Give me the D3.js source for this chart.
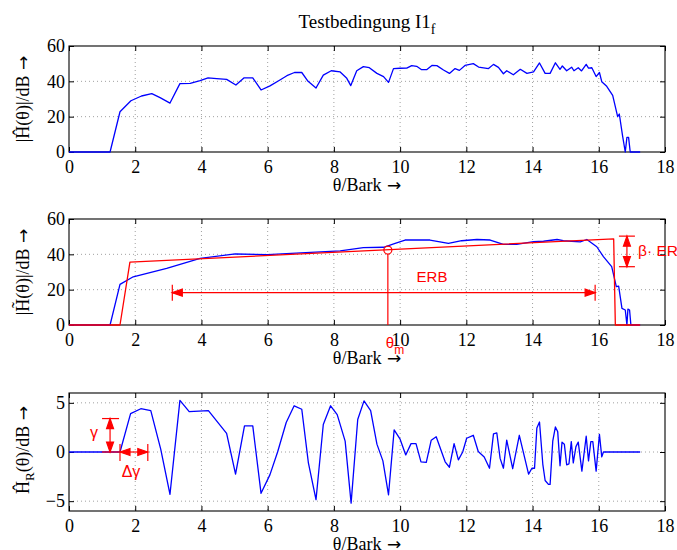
<!DOCTYPE html>
<html>
<head>
<meta charset="utf-8">
<script src="https://cdn.jsdelivr.net/npm/d3@7"></script>
<style>
  body { margin: 0; background: #fff; }
  svg { display: block; }
  text { font-family: "Liberation Serif", "Times New Roman", serif; fill: #000; }
  .tick text { font-family: "Liberation Serif", "Times New Roman", serif !important; font-size: 18px !important; }
</style>
</head>
<body>
<script>
// Bark axis ticks
const xTicks = [0, 2, 4, 6, 8, 10, 12, 14, 16, 18];

// panel 1: |H^(theta)| in dB
const magTheta = [0, 1.24, 1.54, 1.87, 2.19, 2.5, 2.75, 3.05, 3.35, 3.66, 3.96, 4.2, 4.46, 4.76, 5.04, 5.29, 5.55, 5.8, 6.07, 6.32, 6.58, 6.81, 7.03, 7.22, 7.46, 7.68, 7.92, 8.19, 8.39, 8.51, 8.69, 8.89, 9.07, 9.3, 9.5, 9.65, 9.8, 10.0, 10.2, 10.35, 10.5, 10.65, 10.8, 10.96, 11.11, 11.31, 11.49, 11.66, 11.79, 11.96, 12.21, 12.37, 12.67, 12.82, 12.97, 13.12, 13.22, 13.42, 13.63, 13.83, 14.03, 14.21, 14.38, 14.53, 14.69, 14.83, 14.9, 15.03, 15.18, 15.25, 15.38, 15.48, 15.62, 15.69, 15.79, 15.92, 16.02, 16.09, 16.24, 16.42, 16.57, 16.62, 16.72, 16.8, 16.85, 16.9, 16.95, 17.25];
const magDb = [0, 0, 22.8, 29, 31.7, 33, 30.8, 27.7, 38.7, 38.9, 40.4, 41.9, 41.5, 41.1, 37.9, 42, 42, 35.1, 37.4, 40.2, 43.2, 45, 45, 40, 36.2, 43.5, 46, 45.3, 41.7, 37.6, 46, 48.3, 47.7, 44.5, 42.7, 39.4, 47.2, 47.4, 47.5, 48.9, 48.5, 46.6, 46.6, 49, 48.9, 46.4, 44.5, 47.2, 46.2, 49, 50, 48.1, 47.2, 49.6, 47.9, 44.3, 46, 43.7, 46.8, 44.5, 45.3, 50.4, 44.5, 44.5, 50.5, 46.8, 48.7, 46, 48, 46, 47.7, 45.9, 49.6, 47.5, 47.7, 42.7, 45, 39.8, 37.2, 32.1, 20, 21.5, 9, 0, 8.3, 8.3, 0, 0];

// panel 2: smoothed |H~(theta)| and trapezoid model
const smoothTheta = [0, 1.24, 1.54, 1.94, 2.95, 3.96, 5.02, 6.0, 7.0, 8.19, 8.89, 9.5, 9.85, 10.15, 10.9, 11.46, 11.86, 12.32, 12.72, 13.12, 13.52, 14.03, 14.33, 14.74, 14.93, 15.44, 15.64, 15.94, 16.14, 16.39, 16.53, 16.6, 16.7, 16.8, 16.85, 16.88, 16.93, 16.97, 17.25];
const smoothDb = [0, 0, 23, 27.3, 32, 37.7, 40.2, 39.8, 40.8, 42, 43.8, 44, 46.2, 48.1, 48.1, 46.2, 47.7, 48.4, 48.1, 45.6, 45.6, 47.2, 47.4, 48.4, 47.7, 47, 48.4, 44.3, 38.7, 33, 21.7, 22, 9.4, 8.5, 0, 9, 8.5, 0, 0];
const envTheta = [0, 1.54, 1.84, 16.45, 16.5, 17.25];
const envDb = [0, 0, 35.6, 48.8, 0, 0];

// panel 3: residual H^_R(theta)
const resTheta = [0, 1.54, 1.86, 2.17, 2.47, 2.77, 3.05, 3.35, 3.63, 4.21, 4.76, 5.03, 5.3, 5.55, 5.8, 6.07, 6.3, 6.56, 6.8, 7.03, 7.23, 7.46, 7.68, 7.9, 8.1, 8.34, 8.52, 8.72, 8.91, 9.11, 9.3, 9.48, 9.65, 9.82, 10.0, 10.17, 10.33, 10.48, 10.63, 10.79, 10.94, 11.09, 11.36, 11.49, 11.63, 11.76, 11.89, 12.01, 12.21, 12.36, 12.54, 12.7, 12.82, 12.92, 13.02, 13.12, 13.22, 13.4, 13.6, 13.88, 13.98, 14.06, 14.13, 14.21, 14.31, 14.38, 14.48, 14.53, 14.61, 14.69, 14.76, 14.83, 14.89, 14.96, 15.03, 15.1, 15.17, 15.23, 15.31, 15.38, 15.49, 15.62, 15.69, 15.76, 15.82, 15.92, 16.02, 16.09, 16.14, 17.25];
const resDb = [0, 0, 3.9, 4.4, 4.2, 0.3, -4.3, 5.25, 4.1, 4.2, 1.9, -2.25, 2.65, 2.65, -4.2, -2.3, 0, 3, 4.7, 4.35, -1.1, -4.85, 2.8, 4.7, 3.8, 1.1, -5.2, 3.3, 5.2, 4.2, 0.8, -0.9, -4.35, 2.25, 1.3, -0.3, 0.85, 0.85, -1, -1.05, 1.2, 1.55, -1, -1.55, 0.85, -0.8, 0, 1.4, 1.7, 0.05, -0.5, -1.65, 1.85, 1.95, -0.65, -1.65, 1.2, -1.7, 1.7, -2.25, -1.65, -1.65, 2.45, 3.05, -1.25, -2.9, -3.3, -3.3, 1.1, 2.55, 2.05, -1.4, 1, 0.8, -1.3, -1.2, 1.05, -1.1, 0.55, 1, -1.95, 1.6, -0.9, 1.05, 1.05, -1.95, 1.8, -0.5, 0, 0];

// annotation values
const erbRange = [3.12, 15.89], erbLevel = 18.3;
const thetaM = 9.63, thetaMLevel = 42.4;
const betaTheta = 16.85, betaRange = [33, 50.3];
const gammaTheta = 1.24, gammaRange = [0, 3.4];
const dGammaRange = [1.54, 2.38];

const width = 677, height = 550;
const RED = '#ff0000', BLUE = '#0000ff';
const SERIF = '"Liberation Serif", "Times New Roman", serif';
const SANS = '"Liberation Sans", Arial, sans-serif';

const svg = d3.select('body').append('svg')
  .attr('width', width)
  .attr('height', height);

const x = d3.scaleLinear().domain([0, 18]).range([69, 665]);

const title = svg.append('text')
  .attr('x', 367).attr('y', 28)
  .attr('text-anchor', 'middle')
  .attr('fill', '#000')
  .style('font-family', SERIF)
  .style('font-size', '19px')
  .text('Testbedingung I1');
title.append('tspan').attr('dy', 6).attr('fill', '#000').style('font-size', '14px').text('f');

// arrow glyph in a font where it is drawn long
function addArrow(t) {
  t.append('tspan').style('font-family', '"DejaVu Sans", sans-serif').style('font-size', '17px').text(' →');
}

function makePanel(top, bottom, domain, yTicks, yFormat) {
  const y = d3.scaleLinear().domain(domain).range([bottom, top]);
  const g = svg.append('g');

  // dotted grid
  g.append('g').selectAll('line')
    .data(xTicks.filter(t => t > 0 && t < 18))
    .join('line')
    .attr('x1', d => x(d)).attr('x2', d => x(d))
    .attr('y1', top).attr('y2', bottom)
    .attr('stroke', '#888').attr('stroke-width', 0.8)
    .attr('stroke-dasharray', '1,3');
  g.append('g').selectAll('line')
    .data(yTicks.filter(t => t > domain[0] && t < domain[1]))
    .join('line')
    .attr('x1', x(0)).attr('x2', x(18))
    .attr('y1', d => y(d)).attr('y2', d => y(d))
    .attr('stroke', '#888').attr('stroke-width', 0.8)
    .attr('stroke-dasharray', '1,3');

  // axes with inward ticks, matlab style
  const ax = [
    g.append('g').attr('transform', `translate(0,${bottom})`)
      .call(d3.axisBottom(x).tickValues(xTicks).tickSize(-5).tickSizeOuter(0).tickPadding(8)),
    g.append('g').attr('transform', `translate(0,${top})`)
      .call(d3.axisTop(x).tickValues(xTicks).tickSize(-5).tickSizeOuter(0).tickFormat('')),
    g.append('g').attr('transform', `translate(${x(0)},0)`)
      .call(d3.axisLeft(y).tickValues(yTicks).tickSize(-5).tickSizeOuter(0).tickPadding(4).tickFormat(yFormat)),
    g.append('g').attr('transform', `translate(${x(18)},0)`)
      .call(d3.axisRight(y).tickValues(yTicks).tickSize(-5).tickSizeOuter(0).tickFormat(''))
  ];
  ax.forEach(a => {
    a.attr('font-family', SERIF).attr('font-size', 18);
    a.selectAll('.domain').remove();
    a.selectAll('line').attr('stroke', '#000');
    a.selectAll('text').attr('fill', '#000');
  });

  g.append('rect')
    .attr('x', x(0)).attr('y', top)
    .attr('width', x(18) - x(0)).attr('height', bottom - top)
    .attr('fill', 'none').attr('stroke', '#000').attr('stroke-width', 1.1);

  // x label
  const xl = g.append('text')
    .attr('x', 367).attr('y', bottom + 39)
    .attr('text-anchor', 'middle')
    .style('font-family', SERIF)
    .style('font-size', '18px')
    .text('θ/Bark');
  addArrow(xl);

  return { g, y };
}

function drawLine(p, xs, ys, color) {
  const line = d3.line().x(d => x(d[0])).y(d => p.y(d[1]));
  p.g.append('path')
    .datum(xs.map((t, i) => [t, ys[i]]))
    .attr('d', line)
    .attr('fill', 'none')
    .attr('stroke', color)
    .attr('stroke-width', 1.3)
    .attr('stroke-linejoin', 'round');
}

function arrowHead(g, px, py, dir) {
  // dir: 'l','r','u','d' -- tip at (px,py)
  const L = 10, w = 3.5;
  let pts;
  if (dir === 'l') pts = [[px, py], [px + L, py - w], [px + L, py + w]];
  if (dir === 'r') pts = [[px, py], [px - L, py - w], [px - L, py + w]];
  if (dir === 'u') pts = [[px, py], [px - w, py + L], [px + w, py + L]];
  if (dir === 'd') pts = [[px, py], [px - w, py - L], [px + w, py - L]];
  g.append('path').attr('d', 'M' + pts.join('L') + 'Z').attr('fill', RED).attr('stroke', RED);
}

function yLabel(cy, parts) {
  const t = svg.append('text')
    .attr('transform', `translate(29,${cy}) rotate(-90)`)
    .attr('text-anchor', 'middle')
    .style('font-family', SERIF)
    .style('font-size', '18px');
  parts.forEach(p => {
    const s = t.append('tspan').text(p.text);
    if (p.dy) s.attr('dy', p.dy);
    if (p.size) s.style('font-size', p.size);
  });
  addArrow(t);
}

// ---- panel 1
const p1 = makePanel(46, 152, [0, 60], [0, 20, 40, 60], d3.format('d'));
drawLine(p1, magTheta, magDb, BLUE);
yLabel(99, [{ text: '|H\u0302(θ)|/dB' }]);

// ---- panel 2
const p2 = makePanel(219, 325, [0, 60], [0, 20, 40, 60], d3.format('d'));
drawLine(p2, smoothTheta, smoothDb, BLUE);
drawLine(p2, envTheta, envDb, RED);
yLabel(272, [{ text: '|H\u0303(θ)|/dB' }]);

const a2 = p2.g.append('g').attr('stroke', RED).attr('stroke-width', 1.2);
// ERB arrow
a2.append('line')
  .attr('x1', x(erbRange[0])).attr('x2', x(erbRange[1]))
  .attr('y1', p2.y(erbLevel)).attr('y2', p2.y(erbLevel));
erbRange.forEach(v => a2.append('line')
  .attr('x1', x(v)).attr('x2', x(v))
  .attr('y1', p2.y(erbLevel) - 8).attr('y2', p2.y(erbLevel) + 8));
arrowHead(a2, x(erbRange[0]), p2.y(erbLevel), 'l');
arrowHead(a2, x(erbRange[1]), p2.y(erbLevel), 'r');
p2.g.append('text')
  .attr('x', 432).attr('y', p2.y(erbLevel) - 11)
  .attr('text-anchor', 'middle').attr('fill', RED)
  .style('font-family', SANS).style('font-size', '15px').style('fill', RED)
  .text('ERB');
// theta_m marker
a2.append('line')
  .attr('x1', x(thetaM)).attr('x2', x(thetaM))
  .attr('y1', p2.y(thetaMLevel) + 4).attr('y2', p2.y(0));
a2.append('circle')
  .attr('cx', x(thetaM)).attr('cy', p2.y(thetaMLevel)).attr('r', 4)
  .attr('fill', 'none');
p2.g.append('text')
  .attr('x', x(thetaM) - 2).attr('y', 348)
  .style('font-family', SANS).style('font-size', '15px').style('fill', RED)
  .text('θ')
  .append('tspan').attr('dy', 6).style('font-size', '12px').style('fill', RED).text('m');
// beta*ERB arrow
a2.append('line')
  .attr('x1', x(betaTheta)).attr('x2', x(betaTheta))
  .attr('y1', p2.y(betaRange[0])).attr('y2', p2.y(betaRange[1]));
betaRange.forEach(v => a2.append('line')
  .attr('x1', x(betaTheta) - 8).attr('x2', x(betaTheta) + 8)
  .attr('y1', p2.y(v)).attr('y2', p2.y(v)));
arrowHead(a2, x(betaTheta), p2.y(betaRange[1]), 'u');
arrowHead(a2, x(betaTheta), p2.y(betaRange[0]), 'd');
p2.g.append('text')
  .attr('x', 638).attr('y', 256)
  .style('font-family', SANS).style('font-size', '15.5px').style('fill', RED)
  .text('β· ERB');

// ---- panel 3
const p3 = makePanel(393, 511, [-6, 6], [-5, 0, 5], d => d < 0 ? '\u2212' + Math.abs(d) : d);
drawLine(p3, resTheta, resDb, BLUE);
yLabel(450, [{ text: 'H\u0302' }, { text: 'R', dy: 5, size: '13px' }, { text: '(θ)/dB', dy: -5 }]);

const a3 = p3.g.append('g').attr('stroke', RED).attr('stroke-width', 1.2);
// gamma arrow
a3.append('line')
  .attr('x1', x(gammaTheta)).attr('x2', x(gammaTheta))
  .attr('y1', p3.y(gammaRange[0])).attr('y2', p3.y(gammaRange[1]));
gammaRange.forEach(v => a3.append('line')
  .attr('x1', x(gammaTheta) - 8).attr('x2', x(gammaTheta) + 9)
  .attr('y1', p3.y(v)).attr('y2', p3.y(v)));
arrowHead(a3, x(gammaTheta), p3.y(gammaRange[1]), 'u');
arrowHead(a3, x(gammaTheta), p3.y(gammaRange[0]), 'd');
p3.g.append('text')
  .attr('x', 94).attr('y', 438)
  .attr('text-anchor', 'middle')
  .style('font-family', SANS).style('font-size', '16px').style('fill', RED)
  .text('γ');
// delta gamma arrow
a3.append('line')
  .attr('x1', x(dGammaRange[0])).attr('x2', x(dGammaRange[1]))
  .attr('y1', p3.y(0)).attr('y2', p3.y(0));
dGammaRange.forEach(v => a3.append('line')
  .attr('x1', x(v)).attr('x2', x(v))
  .attr('y1', p3.y(0) - 8).attr('y2', p3.y(0) + 9));
arrowHead(a3, x(dGammaRange[0]), p3.y(0), 'l');
arrowHead(a3, x(dGammaRange[1]), p3.y(0), 'r');
p3.g.append('text')
  .attr('x', 131).attr('y', 477)
  .attr('text-anchor', 'middle')
  .style('font-family', SANS).style('font-size', '16px').style('fill', RED)
  .text('Δγ');
</script>
</body>
</html>
